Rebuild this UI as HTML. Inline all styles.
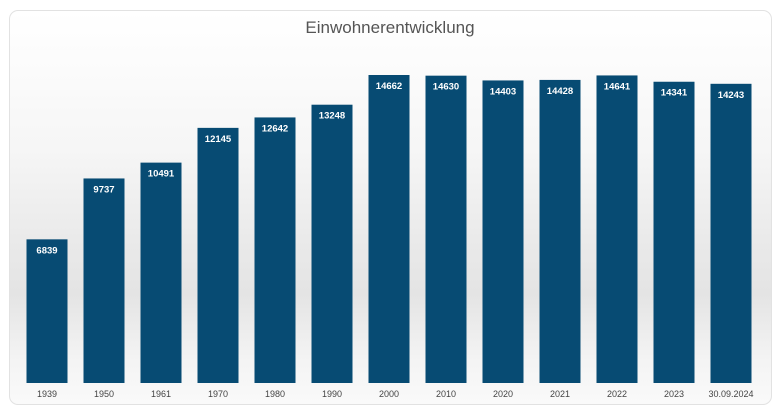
<!DOCTYPE html>
<html><head><meta charset="utf-8"><style>
html,body{margin:0;padding:0;background:#fff;width:780px;height:413px;overflow:hidden}
#frame{position:absolute;left:9px;top:10px;width:761px;height:393px;border:1px solid #e2e2e2;border-radius:9px;
background:linear-gradient(#ffffff 0%,#f6f6f6 35%,#e9e9e9 60%,#e4e4e4 72%,#f3f3f3 88%,#fafafa 100%)}
svg{position:absolute;left:0;top:0}
</style></head><body>
<div id="frame"></div>
<svg id="chart" width="780" height="413">
<text x="390" y="33" text-anchor="middle" font-family="Liberation Sans, sans-serif" font-size="17" fill="#555">Einwohnerentwicklung</text>
</svg>
<script>
const categories=["1939","1950","1961","1970","1980","1990","2000","2010","2020","2021","2022","2023","30.09.2024"];
const values=[6839,9737,10491,12145,12642,13248,14662,14630,14403,14428,14641,14341,14243];
const svg=document.getElementById('chart');
const NS='http://www.w3.org/2000/svg';
const baseY=383, pxPerUnit=308/14662, x0=47, step=57, bw=41;
function xScale(i){return x0+step*i;}
function yScale(v){return baseY-v*pxPerUnit;}
categories.forEach((c,i)=>{
  const cx=xScale(i), top=yScale(values[i]);
  const r=document.createElementNS(NS,'rect');
  r.setAttribute('x',cx-bw/2);r.setAttribute('y',top);r.setAttribute('width',bw);r.setAttribute('height',baseY-top);
  r.setAttribute('fill','#074b73');
  
  
  svg.appendChild(r);
  const t=document.createElementNS(NS,'text');
  t.setAttribute('x',cx);t.setAttribute('y',top+14);t.setAttribute('text-anchor','middle');
  t.setAttribute('font-family','Liberation Sans, sans-serif');t.setAttribute('font-size','9.5');t.setAttribute('font-weight','bold');t.setAttribute('fill','#fff');
  t.textContent=values[i];
  
  
  svg.appendChild(t);
  const l=document.createElementNS(NS,'text');
  l.setAttribute('x',cx);l.setAttribute('y',397);l.setAttribute('text-anchor','middle');
  l.setAttribute('font-family','Liberation Sans, sans-serif');l.setAttribute('font-size','9');l.setAttribute('fill','#444');
  l.textContent=c;
  
  
  svg.appendChild(l);
});
</script>
</body></html>
